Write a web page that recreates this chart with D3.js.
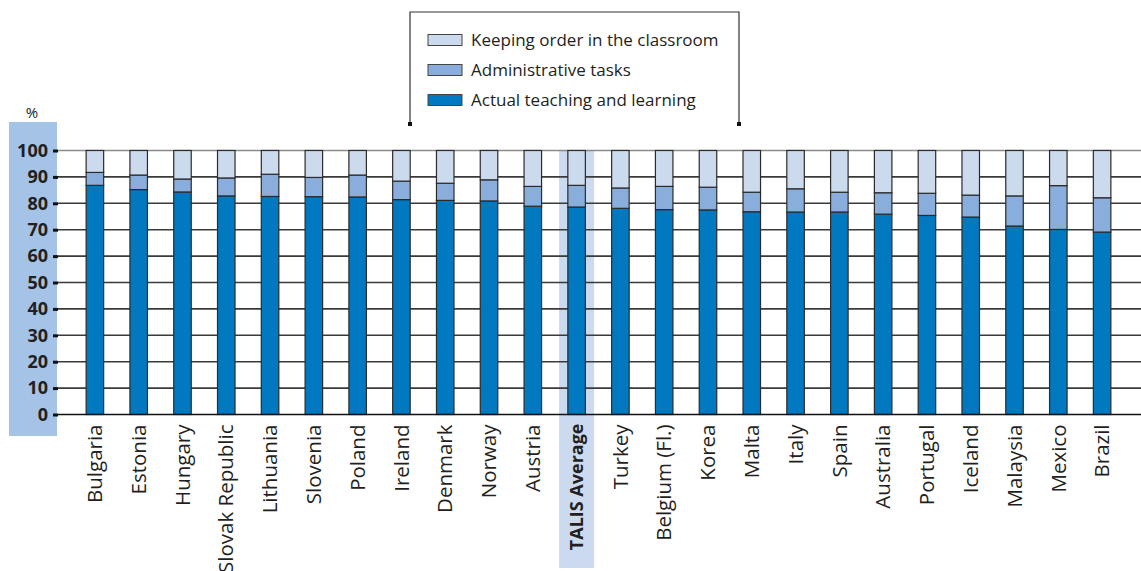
<!DOCTYPE html>
<html>
<head>
<meta charset="utf-8">
<script src="https://cdn.jsdelivr.net/npm/d3@7"></script>
<style>
  html, body { margin: 0; padding: 0; background: #fff; }
  svg { display: block; }
  text { font-family: "Open Sans", "DejaVu Sans", sans-serif; fill: #231f20; }
</style>
</head>
<body>
<svg id="chart" width="1141" height="571"></svg>
<script>
// Share of classroom time, by country (percent)
const categories = ["Bulgaria", "Estonia", "Hungary", "Slovak Republic", "Lithuania", "Slovenia",
  "Poland", "Ireland", "Denmark", "Norway", "Austria", "TALIS Average", "Turkey", "Belgium (Fl.)",
  "Korea", "Malta", "Italy", "Spain", "Australia", "Portugal", "Iceland", "Malaysia", "Mexico", "Brazil"];

const teaching = [86.8, 85.2, 84.3, 82.8, 82.6, 82.5, 82.4, 81.4, 81.1, 80.9, 78.9, 78.6,
  78.1, 77.6, 77.5, 76.8, 76.7, 76.7, 75.9, 75.4, 74.8, 71.4, 70.1, 69.1];
const administrative = [4.9, 5.5, 4.9, 6.8, 8.4, 7.3, 8.3, 7.0, 6.5, 8.0, 7.5, 8.2,
  7.7, 8.8, 8.6, 7.4, 8.8, 7.5, 8.1, 8.4, 8.3, 11.4, 16.6, 13.0];
const keepingOrder = [8.3, 9.3, 10.8, 10.4, 9.0, 10.2, 9.3, 11.6, 12.4, 11.1, 13.6, 13.2,
  14.2, 13.6, 13.9, 15.8, 14.5, 15.8, 16.0, 16.2, 16.9, 17.2, 13.3, 17.9];

const seriesNames = ["Actual teaching and learning", "Administrative tasks", "Keeping order in the classroom"];
const yTicks = [0, 10, 20, 30, 40, 50, 60, 70, 80, 90, 100];
const highlight = "TALIS Average";

const colors = {
  "Actual teaching and learning": "#0079c1",
  "Administrative tasks": "#8aaedc",
  "Keeping order in the classroom": "#ccdaee"
};

const rows = categories.map((c, i) => ({
  country: c,
  "Actual teaching and learning": teaching[i],
  "Administrative tasks": administrative[i],
  "Keeping order in the classroom": keepingOrder[i]
}));

const svg = d3.select("#chart");
const W = 1141;
const gridLeft = 58;

const x = d3.scaleBand().domain(categories).range([73, 1124]).paddingInner(0.6).paddingOuter(0.3);
const y = d3.scaleLinear().domain([0, 100]).range([414.5, 150.5]);

// shaded panel behind the y-axis labels
svg.append("rect").attr("x", 9).attr("y", 122).attr("width", 48).attr("height", 314).attr("fill", "#a5c3e6");

// highlight column for the average
const hx = x(highlight) + x.bandwidth() / 2;
svg.append("rect").attr("x", hx - 17.5).attr("y", y(100)).attr("width", 35).attr("height", 568 - y(100))
  .attr("fill", "#cbdaee");

// gridlines
svg.append("g").selectAll("line").data(yTicks.filter(d => d > 0)).join("line")
  .attr("x1", gridLeft).attr("x2", W).attr("y1", d => y(d)).attr("y2", d => y(d))
  .attr("stroke", d => d === 100 ? "#8a8a8a" : "#3a3a3a").attr("stroke-width", 1.6);

// stacked bars
const stack = d3.stack().keys(seriesNames)(rows);
svg.append("g").selectAll("g").data(stack).join("g")
  .attr("fill", d => colors[d.key])
  .selectAll("rect").data(d => d).join("rect")
  .attr("x", d => x(d.data.country))
  .attr("width", x.bandwidth())
  .attr("y", d => y(d[1]))
  .attr("height", d => y(d[0]) - y(d[1]))
  .attr("stroke", "#2b2b2b").attr("stroke-width", 1.2);

// y axis
const yAxis = svg.append("g").attr("transform", `translate(${gridLeft},0)`)
  .call(d3.axisLeft(y).tickValues(yTicks).tickSize(5).tickPadding(5));
yAxis.select(".domain").remove();
yAxis.selectAll(".tick line").attr("stroke", "#111").attr("stroke-width", 3);
yAxis.selectAll(".tick text").attr("font-size", 18).attr("font-weight", 700).attr("fill", "#231f20")
  .style("font-family", "'Open Sans', sans-serif");

svg.append("text").attr("x", 32).attr("y", 118).attr("text-anchor", "middle").attr("font-size", 15)
  .attr("fill", "#444").text("%");

// x axis baseline and category labels
svg.append("line").attr("x1", gridLeft).attr("x2", W).attr("y1", y(0)).attr("y2", y(0))
  .attr("stroke", "#111").attr("stroke-width", 1.6);
const xAxis = svg.append("g").attr("transform", `translate(0,${y(0)})`)
  .call(d3.axisBottom(x).tickSize(0).tickPadding(0));
xAxis.select(".domain").remove();
xAxis.selectAll(".tick text")
  .attr("transform", "rotate(-90)")
  .attr("x", d => d === highlight ? -9 : -10).attr("y", 0).attr("dy", "0.35em")
  .attr("text-anchor", "end")
  .attr("font-size", d => d === highlight ? 18 : 20.5)
  .attr("font-weight", d => d === highlight ? 700 : 400)
  .attr("fill", "#231f20")
  .style("font-family", "'Open Sans', sans-serif");

// legend
const legend = svg.append("g");
legend.append("path").attr("d", "M410,124 V12 H739 V124").attr("fill", "none").attr("stroke", "#333").attr("stroke-width", 1.2);
legend.append("rect").attr("x", 408).attr("y", 122).attr("width", 4).attr("height", 4).attr("fill", "#111");
legend.append("rect").attr("x", 737).attr("y", 122).attr("width", 4).attr("height", 4).attr("fill", "#111");
const legendOrder = ["Keeping order in the classroom", "Administrative tasks", "Actual teaching and learning"];
const li = legend.selectAll("g.item").data(legendOrder).join("g").attr("class", "item")
  .attr("transform", (d, i) => `translate(428,${40 + i * 30})`);
li.append("rect").attr("x", 0).attr("y", -5.5).attr("width", 34).attr("height", 11)
  .attr("fill", d => colors[d]).attr("stroke", "#444").attr("stroke-width", 1);
li.append("text").attr("x", 43).attr("y", 0).attr("dy", "0.35em").attr("font-size", 17).text(d => d);
</script>
</body>
</html>
